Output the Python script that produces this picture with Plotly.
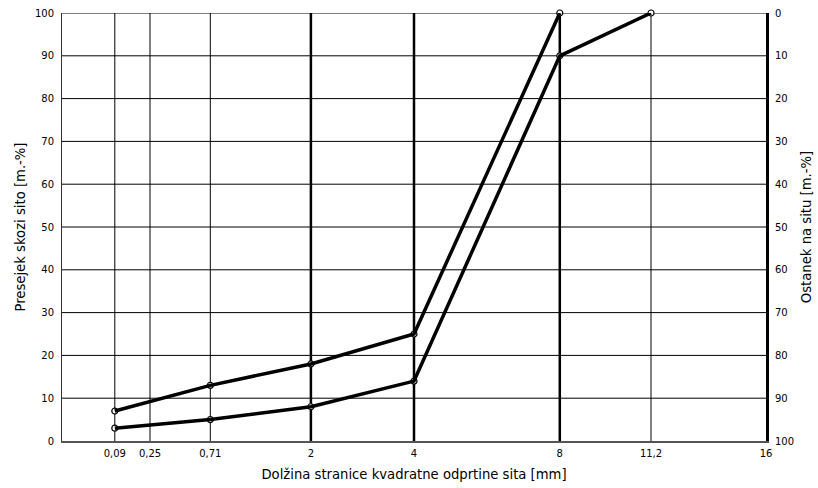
import numpy as np
import plotly.graph_objects as go

# Data
sieve_mm = [0.09, 0.25, 0.71, 2, 4, 8, 11.2, 16]
sieve_labels = ["0,09", "0,25", "0,71", "2", "4", "8", "11,2", "16"]
thick_sieves = [2, 4, 8]

upper_x = [0.09, 0.71, 2, 4, 8]
upper_y = [7, 13, 18, 25, 100]
lower_x = [0.09, 0.71, 2, 4, 8, 11.2]
lower_y = [3, 5, 8, 14, 90, 100]

y_ticks = list(range(0, 101, 10))

def sx(v):
    return np.sqrt(np.asarray(v, dtype=float))

font_family = "DejaVu Sans, Verdana, sans-serif"

fig = go.Figure()
for xs, ys in [(upper_x, upper_y), (lower_x, lower_y)]:
    fig.add_trace(go.Scatter(
        x=sx(xs), y=ys, mode="markers", cliponaxis=False,
        marker=dict(symbol="circle", size=6, color="white",
                    line=dict(color="black", width=1.2)),
        showlegend=False, hoverinfo="skip"))
for xs, ys in [(upper_x, upper_y), (lower_x, lower_y)]:
    fig.add_trace(go.Scatter(
        x=sx(xs), y=ys, mode="lines", cliponaxis=False,
        line=dict(color="black", width=3.5),
        showlegend=False, hoverinfo="skip"))

# invisible trace for right axis
fig.add_trace(go.Scatter(x=[0], y=[0], yaxis="y2", mode="markers",
                         marker=dict(opacity=0), showlegend=False,
                         hoverinfo="skip"))

shapes = []
for s in sieve_mm[:-1]:
    w = 2.5 if s in thick_sieves else 1
    shapes.append(dict(type="line", xref="x", yref="paper",
                       x0=float(sx(s)), x1=float(sx(s)), y0=0, y1=1,
                       line=dict(color="black", width=w), layer="below"))
for yv in y_ticks[1:]:
    shapes.append(dict(type="line", xref="paper", yref="y",
                       x0=0, x1=1, y0=yv, y1=yv,
                       line=dict(color="black", width=1), layer="below"))

fig.update_layout(
    width=818, height=488,
    margin=dict(l=62, r=52, t=13, b=47),
    paper_bgcolor="white", plot_bgcolor="white",
    font=dict(family=font_family, size=10, color="black"),
    shapes=shapes,
    xaxis=dict(
        range=[0, 4], tickmode="array", tickvals=sx(sieve_mm),
        ticktext=sieve_labels, showgrid=False, zeroline=False,
        showline=True, linecolor="#555", linewidth=2, ticks="",
        tickfont=dict(size=10), ticklabelstandoff=2, automargin=False,
        title=dict(text="Dolžina stranice kvadratne odprtine sita [mm]",
                   font=dict(size=13.2), standoff=12),
    ),
    yaxis=dict(
        range=[0, 100], tickmode="array", tickvals=y_ticks,
        showgrid=False, zeroline=False, showline=True,
        linecolor="#333", linewidth=1, ticks="", automargin=False,
        tickfont=dict(size=10), ticklabelstandoff=5,
        title=dict(text="Presejek skozi sito [m.-%]",
                   font=dict(size=13.2), standoff=6),
    ),
    yaxis2=dict(
        range=[100, 0], overlaying="y", side="right",
        tickmode="array", tickvals=y_ticks, automargin=False,
        showgrid=False, zeroline=False, showline=True,
        linecolor="black", linewidth=3, ticks="",
        tickfont=dict(size=10), ticklabelstandoff=4,
        title=dict(text="Ostanek na situ [m.-%]",
                   font=dict(size=13.2), standoff=9),
    ),
)

fig.write_html("out.html")
